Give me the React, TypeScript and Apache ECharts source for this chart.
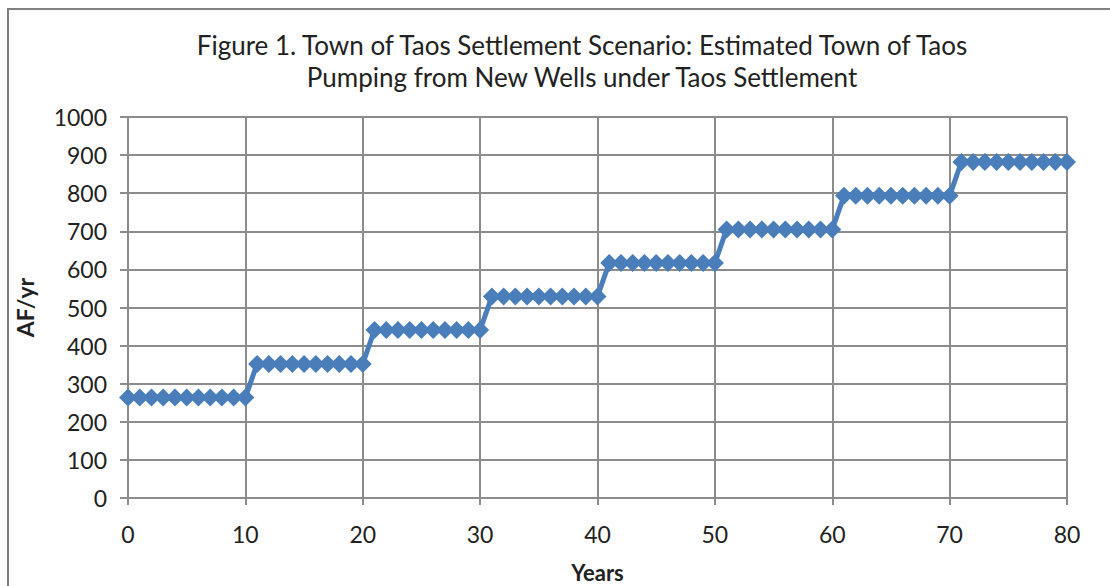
import React, { useEffect, useRef } from "react";
import * as echarts from "echarts";

const titleLines = [
  "Figure 1. Town of Taos Settlement Scenario: Estimated Town of Taos",
  "Pumping from New Wells under Taos Settlement",
];
const xAxisName = "Years";
const yAxisName = "AF/yr";
// Years 0..80 and the pumping level (AF/yr) read at each marker
const years: number[] = [
  0, 1, 2, 3, 4, 5, 6, 7, 8, 9, 10,
  11, 12, 13, 14, 15, 16, 17, 18, 19, 20,
  21, 22, 23, 24, 25, 26, 27, 28, 29, 30,
  31, 32, 33, 34, 35, 36, 37, 38, 39, 40,
  41, 42, 43, 44, 45, 46, 47, 48, 49, 50,
  51, 52, 53, 54, 55, 56, 57, 58, 59, 60,
  61, 62, 63, 64, 65, 66, 67, 68, 69, 70,
  71, 72, 73, 74, 75, 76, 77, 78, 79, 80,
];
const pumping: number[] = [
  264, 264, 264, 264, 264, 264, 264, 264, 264, 264, 264,
  352, 352, 352, 352, 352, 352, 352, 352, 352, 352,
  441, 441, 441, 441, 441, 441, 441, 441, 441, 441,
  529, 529, 529, 529, 529, 529, 529, 529, 529, 529,
  617, 617, 617, 617, 617, 617, 617, 617, 617, 617,
  705, 705, 705, 705, 705, 705, 705, 705, 705, 705,
  793, 793, 793, 793, 793, 793, 793, 793, 793, 793,
  882, 882, 882, 882, 882, 882, 882, 882, 882, 882,
];

const FONT = "Lato, 'Open Sans', sans-serif";
const GRID = "#8c8c8c";

export default function App() {
  const ref = useRef<HTMLDivElement>(null);
  useEffect(() => {
    if (!ref.current) return;
    const chart = echarts.init(ref.current, undefined, { renderer: "svg" });
    chart.setOption({
      animation: false,
      backgroundColor: "#ffffff",
      textStyle: { fontFamily: FONT },
      title: {
        text: titleLines.join("\n"),
        left: 577,
        top: 24,
        textAlign: "center",
        textStyle: {
          fontFamily: FONT,
          fontSize: 26,
          fontWeight: "normal",
          color: "#222",
          lineHeight: 32,
        },
      },
      graphic: [
        {
          type: "rect",
          shape: { x: 8, y: 9, width: 1200, height: 700 },
          style: { fill: "none", stroke: "#808080", lineWidth: 2 },
          silent: true,
        },
      ],
      grid: {
        left: 128,
        width: 939,
        top: 117,
        height: 381,
        containLabel: false,
        outerBoundsMode: "none",
      },
      xAxis: {
        type: "value",
        min: 0,
        max: 80,
        interval: 10,
        name: xAxisName,
        nameLocation: "middle",
        nameGap: 63,
        nameTextStyle: { fontFamily: FONT, fontSize: 22, fontWeight: "bold", color: "#222" },
        axisLine: { show: true, lineStyle: { color: GRID, width: 2 } },
        axisTick: { show: true, length: 7, lineStyle: { color: GRID, width: 2 } },
        axisLabel: { fontFamily: FONT, fontSize: 23, color: "#222", margin: 24 },
        splitLine: { show: true, lineStyle: { color: GRID, width: 2 } },
      },
      yAxis: {
        type: "value",
        min: 0,
        max: 1000,
        interval: 100,
        name: yAxisName,
        nameLocation: "middle",
        nameGap: 92,
        nameRotate: 90,
        nameTextStyle: { fontFamily: FONT, fontSize: 23, fontWeight: "bold", color: "#222" },
        axisLine: { show: true, lineStyle: { color: GRID, width: 2 } },
        axisTick: { show: true, length: 8, lineStyle: { color: GRID, width: 2 } },
        axisLabel: {
          fontFamily: FONT,
          fontSize: 23,
          color: "#222",
          margin: 21,
          formatter: (v: number) => String(v),
        },
        splitLine: { show: true, lineStyle: { color: GRID, width: 2 } },
      },
      series: [
        {
          type: "line",
          data: years.map((y, i) => [y, pumping[i]]),
          symbol: "diamond",
          symbolSize: 18,
          itemStyle: { color: "#4a7ebb" },
          lineStyle: { color: "#4a7ebb", width: 5 },
          clip: false,
        },
      ],
    });
    return () => chart.dispose();
  }, []);
  return (
    <div
      ref={ref}
      style={{ position: "fixed", left: 0, top: 0, width: 1110, height: 586 }}
    />
  );
}
